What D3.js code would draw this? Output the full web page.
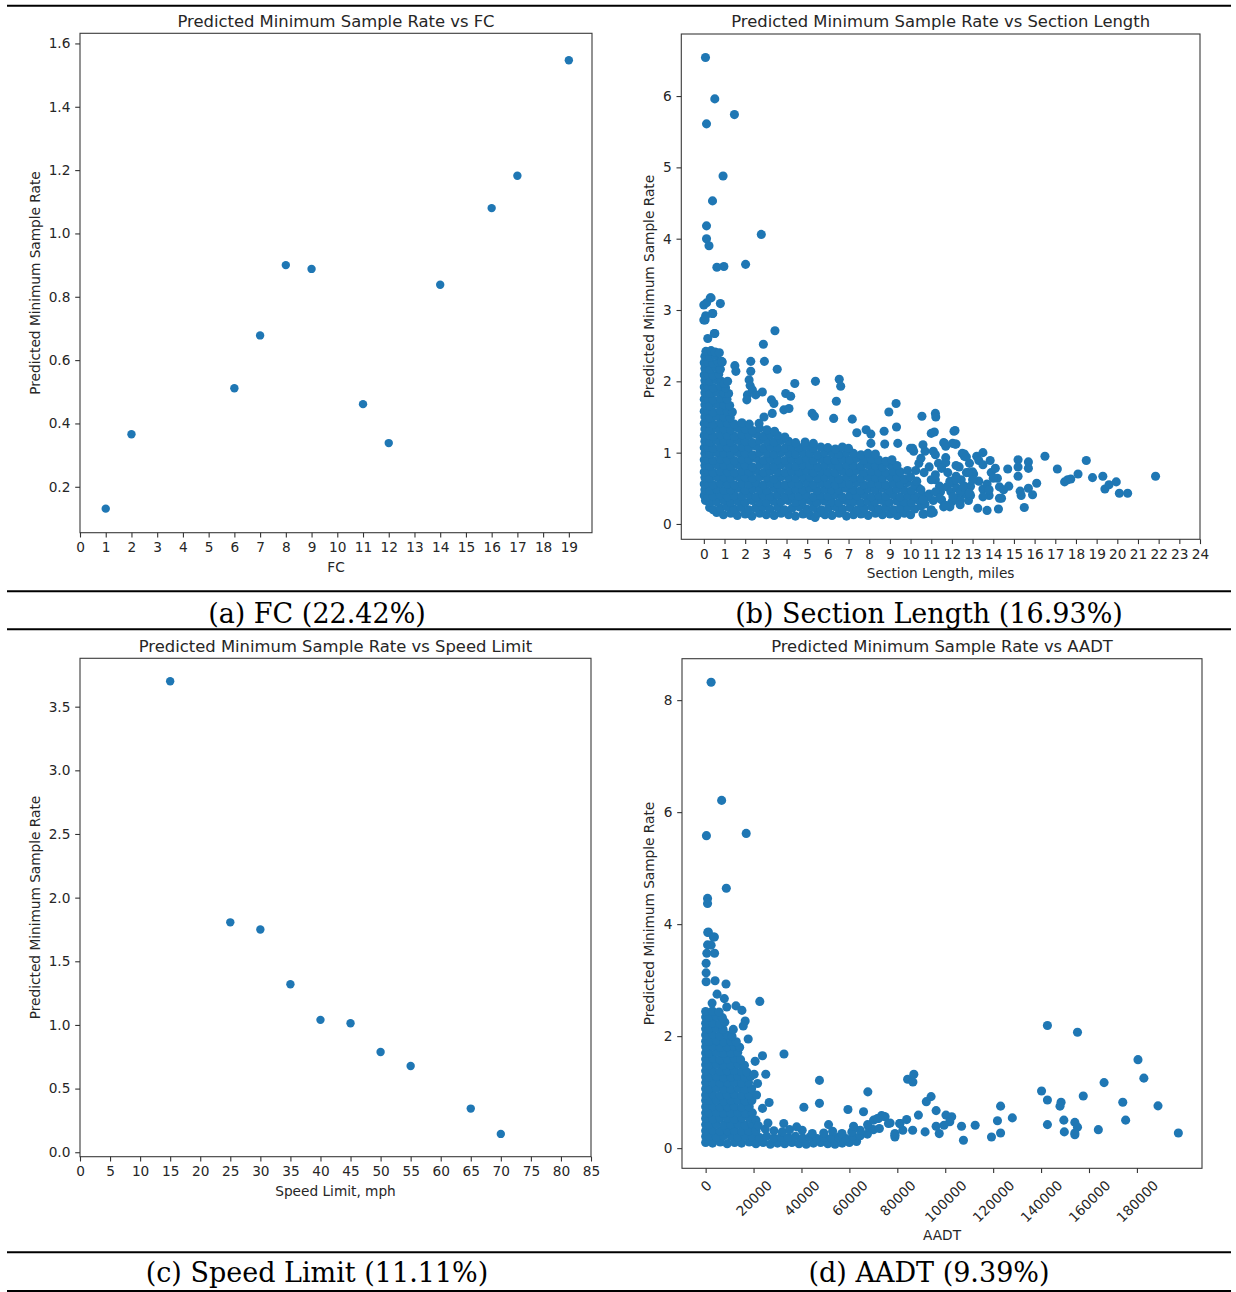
<!DOCTYPE html>
<html>
<head>
<meta charset="utf-8">
<script src="https://cdn.jsdelivr.net/npm/d3@7"></script>
<style>
  body { margin: 0; background: #fff; }
  svg { display: block; }
</style>
</head>
<body>
<svg id="fig" width="1236" height="1292"></svg>
<script>
// ---- (a) functional class ----
const fcValues = [1, 2, 6, 7, 8, 9, 11, 12, 14, 16, 17, 19];
const fcRates  = [0.131, 0.366, 0.511, 0.678, 0.900, 0.888, 0.461, 0.338, 0.838, 1.080, 1.182, 1.547];
const fcTicks  = [0,1,2,3,4,5,6,7,8,9,10,11,12,13,14,15,16,17,18,19];
const fcRateTicks = [0.2, 0.4, 0.6, 0.8, 1.0, 1.2, 1.4, 1.6];

// ---- (c) speed limit ----
const speedLimits = [15, 25, 30, 35, 40, 45, 50, 55, 65, 70];
const speedRates  = [3.70, 1.806, 1.75, 1.32, 1.04, 1.013, 0.787, 0.677, 0.343, 0.144];
const speedTicks  = [0,5,10,15,20,25,30,35,40,45,50,55,60,65,70,75,80,85];
const speedRateTicks = [0.0, 0.5, 1.0, 1.5, 2.0, 2.5, 3.0, 3.5];

// ---- (b) section length [miles, rate] ----
const sectionCore = [
  [0.62,.16],[0.95,.13],[1.3,.15],[1.62,.12],[2.0,.14],[2.33,.11],[2.7,.15],[3.02,.13],[3.4,.12],[3.74,.15],[4.1,.13],[4.43,.11],[4.8,.14],[5.15,.12],[5.38,.09],[5.52,.15],[5.86,.13],[6.2,.12],[6.55,.15],[6.9,.11],[7.24,.13],[7.6,.14],[7.95,.12],[8.3,.15],[8.64,.13],[9.0,.14],[9.35,.12],[9.7,.15],[10.0,.13],
  [0.28,.23],[0.45,.2],[0.8,.22],[1.12,.24],[1.47,.21],[1.8,.23],[2.17,.2],[2.5,.22],[2.86,.24],[3.2,.21],[3.57,.23],[3.9,.2],[4.27,.22],[4.6,.24],[4.97,.21],[5.3,.23],[5.68,.2],[6.03,.22],[6.36,.24],[6.72,.21],[7.07,.23],[7.42,.2],[7.76,.22],[8.12,.24],[8.47,.21],[8.8,.23],[9.17,.2],[9.5,.22],[9.86,.24],[10.2,.21],[10.5,.25],
  [0.08,.33],[0.3,.3],[0.62,.31],[0.97,.33],[1.3,.3],[1.64,.32],[2.0,.3],[2.34,.33],[2.68,.31],[3.03,.3],[3.38,.32],[3.74,.31],[4.08,.33],[4.44,.3],[4.78,.31],[5.13,.33],[5.48,.3],[5.83,.32],[6.18,.31],[6.53,.3],[6.88,.33],[7.24,.31],[7.58,.3],[7.94,.32],[8.28,.31],[8.63,.33],[8.98,.3],[9.34,.32],[9.68,.31],[10.04,.3],[10.4,.33],
  [0.02,.4],[0.2,.38],[0.45,.39],[0.8,.41],[1.14,.38],[1.48,.4],[1.83,.39],[2.18,.41],[2.52,.38],[2.87,.4],[3.22,.39],[3.56,.41],[3.92,.38],[4.26,.4],[4.6,.39],[4.96,.41],[5.3,.38],[5.66,.4],[6.0,.39],[6.36,.41],[6.7,.38],[7.06,.4],[7.4,.39],[7.76,.41],[8.1,.38],[8.46,.4],[8.8,.39],[9.16,.41],[9.5,.38],[9.86,.4],[10.2,.39],[10.55,.41],
  [0.05,.48],[0.3,.47],[0.62,.49],[0.97,.47],[1.3,.48],[1.66,.5],[2.0,.47],[2.36,.49],[2.7,.48],[3.04,.47],[3.4,.5],[3.74,.48],[4.1,.47],[4.44,.49],[4.78,.48],[5.14,.5],[5.48,.47],[5.84,.49],[6.18,.48],[6.54,.47],[6.88,.5],[7.24,.48],[7.58,.47],[7.94,.49],[8.28,.48],[8.64,.5],[8.98,.47],[9.34,.49],[9.68,.48],[10.04,.47],[10.4,.5],
  [0.02,.56],[0.2,.57],[0.45,.55],[0.8,.57],[1.14,.56],[1.48,.55],[1.84,.57],[2.18,.56],[2.53,.58],[2.88,.55],[3.22,.57],[3.57,.56],[3.92,.55],[4.26,.57],[4.61,.56],[4.96,.58],[5.3,.55],[5.66,.57],[6.0,.56],[6.36,.55],[6.7,.57],[7.05,.56],[7.4,.58],[7.75,.55],[8.1,.57],[8.45,.56],[8.8,.55],[9.15,.57],[9.5,.56],[9.85,.58],[10.2,.55],
  [0.05,.65],[0.3,.64],[0.62,.66],[0.97,.65],[1.3,.64],[1.66,.66],[2.0,.65],[2.35,.64],[2.7,.66],[3.05,.65],[3.4,.63],[3.75,.66],[4.1,.65],[4.44,.64],[4.8,.66],[5.14,.65],[5.5,.64],[5.84,.66],[6.2,.65],[6.54,.63],[6.9,.66],[7.24,.65],[7.6,.64],[7.94,.66],[8.3,.65],[8.64,.64],[9.0,.66],[9.34,.65],[9.7,.63],[10.0,.66],
  [0.02,.73],[0.2,.74],[0.45,.72],[0.8,.74],[1.14,.73],[1.48,.72],[1.84,.74],[2.18,.73],[2.53,.75],[2.88,.72],[3.22,.74],[3.57,.73],[3.92,.72],[4.26,.74],[4.61,.73],[4.96,.75],[5.3,.72],[5.66,.74],[6.0,.73],[6.36,.72],[6.7,.74],[7.05,.73],[7.4,.75],[7.75,.72],[8.1,.74],[8.45,.73],[8.8,.72],[9.15,.74],[9.5,.73],[9.85,.75],
  [0.05,.82],[0.3,.81],[0.62,.83],[0.97,.82],[1.3,.81],[1.66,.83],[2.0,.82],[2.35,.8],[2.7,.83],[3.05,.82],[3.4,.81],[3.75,.83],[4.1,.82],[4.44,.81],[4.8,.83],[5.14,.82],[5.5,.8],[5.84,.83],[6.2,.82],[6.54,.81],[6.9,.83],[7.24,.82],[7.6,.81],[7.94,.83],[8.3,.82],[8.64,.8],[9.0,.83],[9.34,.82],
  [0.02,.9],[0.2,.91],[0.45,.89],[0.8,.91],[1.14,.9],[1.48,.89],[1.84,.91],[2.18,.9],[2.53,.92],[2.88,.89],[3.22,.91],[3.57,.9],[3.92,.89],[4.26,.91],[4.61,.9],[4.96,.92],[5.3,.89],[5.66,.91],[6.0,.9],[6.36,.89],[6.7,.91],[7.05,.9],[7.4,.92],[7.75,.89],[8.1,.91],[8.45,.9],[8.8,.88],[9.1,.9],
  [0.05,.99],[0.3,.98],[0.62,1.0],[0.97,.99],[1.3,.98],[1.66,1.0],[2.0,.99],[2.35,.97],[2.7,1.0],[3.05,.99],[3.4,.98],[3.75,1.0],[4.1,.99],[4.44,.98],[4.8,1.0],[5.14,.99],[5.5,.97],[5.84,1.0],[6.2,.99],[6.54,.98],[6.9,1.0],[7.24,.99],[7.6,.97],[7.94,.99],[8.3,.98],
  [0.02,1.07],[0.2,1.08],[0.45,1.06],[0.8,1.08],[1.14,1.07],[1.48,1.06],[1.84,1.08],[2.18,1.07],[2.53,1.09],[2.88,1.06],[3.22,1.08],[3.57,1.07],[3.92,1.06],[4.26,1.08],[4.61,1.07],[4.96,1.09],[5.3,1.06],[5.66,1.08],[6.0,1.07],[6.36,1.05],[6.7,1.08],[7.0,1.06],
  [0.05,1.16],[0.3,1.15],[0.62,1.17],[0.97,1.16],[1.3,1.15],[1.66,1.17],[2.0,1.16],[2.35,1.14],[2.7,1.17],[3.05,1.16],[3.4,1.15],[3.75,1.17],[4.1,1.16],[4.44,1.14],[4.9,1.15],[5.3,1.13],
  [0.02,1.24],[0.2,1.25],[0.45,1.23],[0.8,1.25],[1.14,1.24],[1.48,1.23],[1.84,1.25],[2.18,1.24],[2.53,1.26],[2.88,1.23],[3.22,1.25],[3.57,1.24],[3.92,1.22],
  [0.05,1.33],[0.3,1.32],[0.62,1.34],[0.97,1.33],[1.3,1.32],[1.66,1.34],[2.0,1.33],[2.35,1.31],[2.7,1.34],[3.05,1.32],[3.42,1.3],
  [0.02,1.41],[0.2,1.42],[0.45,1.4],[0.8,1.42],[1.14,1.41],[1.48,1.4],[1.84,1.42],[2.2,1.4],
  [0.05,1.5],[0.3,1.49],[0.62,1.51],[0.97,1.5],[1.28,1.49],
  [0.02,1.58],[0.2,1.59],[0.45,1.57],[0.8,1.59],[1.14,1.58],[1.38,1.57],
  [0.05,1.67],[0.3,1.66],[0.62,1.68],[0.97,1.67],[1.25,1.66],
  [0.02,1.75],[0.2,1.76],[0.45,1.74],[0.8,1.76],[1.12,1.75],
  [0.05,1.84],[0.3,1.83],[0.62,1.85],[0.95,1.84],[1.2,1.83],
  [0.02,1.92],[0.2,1.93],[0.45,1.91],[0.8,1.93],[1.05,1.91],
  [0.05,2.01],[0.3,2.0],[0.6,2.02],[0.85,2.0],
  [0.02,2.09],[0.2,2.1],[0.45,2.08],[0.72,2.1],
  [0.05,2.18],[0.3,2.17],[0.6,2.19],[0.8,2.17],
  [0.02,2.26],[0.2,2.27],[0.45,2.25],[0.7,2.27],
  [0.05,2.35],[0.3,2.34],[0.58,2.36],
  [0.1,2.42],[0.35,2.43],[0.55,2.41],[0.75,2.4]
];
const sectionTail = [
  [10.3,.6],[10.4,.85],[10.5,.48],[10.7,.28],[10.9,.8],[11.0,.2],[11.2,.62],[11.35,.85],[11.45,.45],[11.5,.34],[11.75,.52],[11.95,.45],[12.05,.57],[12.25,.5],[12.45,.62],[12.6,.42],[12.35,.8],[12.85,.85],[13.05,.7],[10.5,.92],[10.25,.75],[10.9,.42],[11.1,.16],[10.65,.14],[10.6,.14],[11.0,.15],
  [10.1,1.06],[10.15,1.02],[10.6,1.11],[10.7,1.02],[10.65,.72],[11.1,1.02],[11.2,.97],[11.6,1.14],[11.7,1.09],[11.7,.93],[11.7,.86],[12.2,.82],[12.5,.99],[12.6,.95],[13.0,.73],[12.7,.72],[12.6,.53],[12.4,.45],[12.2,.36],[12.0,.31],[11.9,.24],[12.4,.33],[12.9,.53],[12.8,.33],[13.3,.6],[13.5,.49],[12.9,.4],[11.4,.53],[11.2,.45],[11.1,.33],[11.4,.36],[11.6,.24],[11.7,.26],[10.8,.38],[10.6,.34],[11.0,.62],[11.2,.69],[11.5,.78],[11.8,.72],[11.9,.6],[12.2,.67],[13.9,.72],[13.7,.56],[13.8,.4],[14.2,.64],[14.3,.52],[14.4,.36],
  [12.15,1.31],[12.2,1.12],[12.6,.98],[12.7,.94],[13.2,.95],[13.5,1.0],[13.3,.89],[13.85,.89],[13.5,.83],[14.1,.78],[14.7,.77],[15.2,.9],[15.2,.8],[15.2,.67],[15.7,.87],[15.7,.78],[16.5,.95],[17.1,.77],[18.5,.89],[17.45,.59],[17.6,.62],[17.75,.63],[18.1,.7],[18.8,.65],[19.3,.67],[19.4,.49],[19.6,.55],[19.95,.59],[20.1,.43],[20.5,.43],[21.85,.67],[16.1,.57],[15.9,.41],[15.5,.23],[15.35,.4],[15.3,.46],[15.7,.5],[14.75,.53],[14.5,.48],[14.3,.36],[14.25,.21],[13.7,.19],[13.25,.22],[12.85,.43],[12.4,.27],[12.05,.38],[13.8,.48],[13.5,.38],[12.55,.52],[13.0,.62],[12.8,.72],[12.2,.62],[14.0,.64]
];
const sectionHigh = [
  [0.08,6.54],[0.53,5.96],[0.13,5.61],[1.48,5.74],[0.93,4.88],[0.42,4.53],[0.13,4.18],[0.13,4.0],[0.25,3.9],[2.78,4.06],[0.63,3.6],[0.97,3.61],[2.02,3.64],[0.31,3.17],[0.8,3.09],[0.0,3.07],[0.13,3.1],[0.42,2.95],[0.09,2.92],[0.0,2.86],[0.53,2.67],[0.19,2.6],[3.44,2.71],[2.88,2.52],[2.93,2.28],[3.55,2.17],[1.5,2.22],[1.55,2.14],[0.89,2.27],[2.27,2.14],[2.19,2.02],[2.24,1.94],[2.11,1.81],[2.08,1.74],[2.35,1.88],[2.51,1.81],[2.83,1.85],[3.27,1.74],[3.39,1.69],[3.96,1.83],[4.2,1.79],[4.4,1.97],[3.87,1.6],[4.12,1.62],[5.4,2.0],[6.55,2.03],[6.62,1.93],[6.41,1.72],[5.24,1.55],[5.35,1.51],[6.28,1.48],[7.18,1.47],[8.95,1.57],[9.3,1.69],[9.32,1.36],[10.55,1.51],[11.2,1.55],[11.22,1.5],[12.1,1.3],[12.15,1.12],[7.4,1.28],[7.85,1.32],[8.08,1.26],[8.72,1.3],[8.75,1.12],[8.08,1.13],[9.38,1.13],[10.0,1.06],[11.0,1.27],[11.15,1.29],[11.65,1.13],[12.03,1.13],[2.27,2.28],[2.91,1.5],[2.67,1.41],[3.31,1.55],[0.99,1.97],[0.86,2.28],[0.51,2.67],[0.06,2.86],[0.35,3.17],[0.43,2.95],[1.15,2.0]
];
const sectionTicks = [0,1,2,3,4,5,6,7,8,9,10,11,12,13,14,15,16,17,18,19,20,21,22,23,24];
const sectionRateTicks = [0, 1, 2, 3, 4, 5, 6];

// ---- (d) AADT [vehicles/day, rate] ----
const aadtCore = [
  [0,.1],[2900,.09],[6100,.11],[9000,.08],[12100,.1],[15000,.09],[18200,.11],
  [0,.21],[1500,.21],[4500,.2],[7500,.22],[10600,.21],[13500,.2],[16500,.22],[19500,.2],
  [0,.31],[3000,.32],[6000,.3],[9100,.31],[12000,.32],[15000,.3],[18000,.31],
  [0,.42],[1500,.42],[4500,.43],[7600,.41],[10500,.42],[13600,.43],[16500,.41],[19500,.42],
  [0,.53],[3000,.52],[6100,.54],[9000,.53],[12000,.52],[15100,.54],[18300,.53],[21000,.5],
  [0,.63],[1500,.63],[4500,.64],[7500,.62],[10500,.63],[13500,.64],[16600,.62],[19500,.63],
  [0,.74],[3000,.75],[6000,.73],[9100,.74],[12000,.75],[15000,.73],[18200,.74],
  [0,.85],[1500,.85],[4500,.86],[7500,.84],[10600,.85],[13500,.86],[16500,.84],[19300,.85],
  [0,.95],[3000,.96],[6100,.94],[9000,.95],[12000,.96],[15100,.94],[18000,.95],
  [0,1.06],[1500,1.06],[4500,1.07],[7500,1.05],[10500,1.06],[13600,1.07],[16500,1.05],[19200,1.06],
  [0,1.17],[3000,1.18],[6000,1.16],[9100,1.17],[12000,1.18],[15000,1.16],[17900,1.17],
  [0,1.27],[1500,1.27],[4500,1.28],[7500,1.26],[10600,1.27],[13500,1.28],[16400,1.26],[18800,1.28],
  [0,1.38],[3000,1.39],[6100,1.37],[9000,1.38],[12000,1.39],[15000,1.37],[17200,1.36],
  [0,1.49],[1500,1.49],[4500,1.5],[7500,1.48],[10500,1.49],[13500,1.5],[16200,1.48],
  [0,1.59],[3000,1.6],[6000,1.58],[9100,1.59],[12000,1.6],[14600,1.58],
  [0,1.7],[1500,1.7],[4500,1.71],[7500,1.69],[10600,1.7],[13400,1.71],
  [0,1.81],[3000,1.82],[6100,1.8],[9000,1.81],[12000,1.82],[14200,1.8],
  [0,1.91],[1500,1.91],[4500,1.92],[7500,1.9],[10500,1.91],[12800,1.9],
  [0,2.02],[3000,2.03],[6000,2.01],[9100,2.02],[11000,2.0],
  [0,2.13],[1500,2.13],[4500,2.14],[7300,2.12],
  [0,2.23],[3000,2.24],[6000,2.22],[8000,2.25],
  [0,2.34],[1500,2.34],[4500,2.35],[7000,2.33],
  [0,2.44],[2800,2.45],[5600,2.43]
];
const aadtBand = [
  [21000,.08],[24000,.1],[27000,.07],[30000,.09],[33000,.08],[36000,.1],[39000,.08],[42000,.07],[45000,.09],[48000,.1],[51000,.08],[54000,.07],[57000,.09],[60000,.1],[63000,.12],
  [22500,.19],[25500,.21],[28500,.18],[31500,.2],[34500,.19],[37500,.21],[40500,.18],[43500,.2],[46500,.17],[49500,.2],[52500,.18],[55500,.2],[58500,.17],[61500,.21],[64500,.22],[67500,.25],
  [21000,.3],[24900,.34],[28500,.31],[32000,.29],[35000,.33],[40300,.32],[44500,.26],[49300,.27],[53000,.3],[56900,.26],[61000,.29],[64500,.32],[68000,.38],[70000,.33],
  [22000,.4],[26000,.45],[32600,.44],[38000,.38],[51300,.42],[61750,.39],[67600,.42],[70100,.5],[73400,.58],[72100,.53],[74900,.56],[77000,.45],[79000,.23],[81100,.44]
];
const aadtSpread = [
  [2280,8.32],[6680,6.21],[330,5.58],[16930,5.62],[8630,4.64],[800,4.46],[800,4.37],[1120,3.86],[3240,3.77],[800,3.63],[3730,3.48],[900,3.85],[3650,3.77],[2280,3.625],[500,3.48],[200,3.3],[200,3.13],[200,2.97],[3940,2.99],[8500,2.93],[4770,2.75],[2700,2.59],[7800,2.67],[8800,2.52],[12650,2.54],[15150,2.46],[22600,2.62],[16500,2.27],[15700,2.18],[11540,2.12],[17760,1.95],[23730,1.65],[32700,1.68],[20660,1.55],[20250,1.32],[25100,1.32],[21660,1.155],[21240,.95],[26500,.815],[23730,.71],[41000,.73],[47500,1.21],[47500,.8],[59400,.69],[65900,.65],[67700,1.005],[84300,1.23],[86500,1.18],[86900,1.32],
  [142650,2.19],[155200,2.07],[180450,1.58],[182900,1.25],[166300,1.17],[157600,.93],[140200,1.02],[142650,.86],[148350,.82],[147900,.75],[174100,.82],[188800,.755],[175300,.5],[142650,.42],[149500,.5],[154100,.46],[155200,.375],[149700,.29],[154100,.27],[154100,.24],[163900,.33],[197300,.27],[128000,.54],[123100,.75],[121800,.49],[123100,.27],[119300,.2],[112500,.41],[107600,.14],[106800,.39],[102700,.56],[100300,.59],[101900,.47],[99500,.41],[96200,.39],[97500,.26],[96200,.67],[94100,.92],[92100,.83],[91600,.29],[88800,.59],[83900,.51],[86400,.32],[82300,.32],[81000,.44],[79000,.2],[79000,.26],[71700,.53],[74200,.57],[76300,.44],[72500,.35]
];
const aadtTicks = [0, 20000, 40000, 60000, 80000, 100000, 120000, 140000, 160000, 180000];
const aadtRateTicks = [0, 2, 4, 6, 8];

// ---- drawing ----
const BLUE = "#1f77b4";
const SANS = "DejaVu Sans";
const INK = "#262626";
const svg = d3.select("#fig");

function drawPanel(p) {
  const g = svg.append("g");
  const x = d3.scaleLinear().domain(p.xDomain).range([p.left, p.right]);
  const y = d3.scaleLinear().domain(p.yDomain).range([p.bottom, p.top]);

  g.append("g").selectAll("circle").data(p.points).join("circle")
    .attr("cx", d => x(d[0])).attr("cy", d => y(d[1]))
    .attr("r", p.r).attr("fill", BLUE);

  g.append("rect")
    .attr("x", p.left).attr("y", p.top)
    .attr("width", p.right - p.left).attr("height", p.bottom - p.top)
    .attr("fill", "none").attr("stroke", "#3a3a3a").attr("stroke-width", 1.1);

  const xAxis = g.append("g").attr("transform", `translate(0,${p.bottom})`)
    .call(d3.axisBottom(x).tickValues(p.xTicks).tickFormat(p.xFormat)
      .tickSize(4.8).tickPadding(4.8).tickSizeOuter(0));
  const yAxis = g.append("g").attr("transform", `translate(${p.left},0)`)
    .call(d3.axisLeft(y).tickValues(p.yTicks).tickFormat(p.yFormat)
      .tickSize(4.8).tickPadding(4.8).tickSizeOuter(0));

  [xAxis, yAxis].forEach(a => {
    a.select(".domain").remove();
    a.attr("font-family", SANS).attr("font-size", 13.7).attr("color", INK);
    a.selectAll(".tick line").attr("stroke", "#333").attr("stroke-width", 1.1);
  });

  if (p.rotateX) {
    xAxis.selectAll(".tick text").each(function () {
      const t = d3.select(this);
      const w = this.getComputedTextLength();
      const side = (w + 14) * Math.SQRT1_2;
      t.attr("y", null).attr("dy", "0.35em").attr("text-anchor", "middle")
        .attr("transform", `translate(0,${9.6 + side / 2}) rotate(-45)`);
    });
  }

  const cx = (p.left + p.right) / 2;
  g.append("text").attr("x", cx).attr("y", p.top - 6.8)
    .attr("text-anchor", "middle").attr("font-family", SANS).attr("font-size", 16.4)
    .attr("fill", INK).text(p.title);
  g.append("text").attr("x", cx).attr("y", p.xLabelY)
    .attr("text-anchor", "middle").attr("font-family", SANS).attr("font-size", 13.7)
    .attr("fill", INK).text(p.xLabel);
  g.append("text")
    .attr("transform", `translate(${p.yLabelX},${(p.top + p.bottom) / 2}) rotate(-90)`)
    .attr("text-anchor", "middle").attr("font-family", SANS).attr("font-size", 13.7)
    .attr("fill", INK).text("Predicted Minimum Sample Rate");
}

const f1 = d3.format(".1f"), fd = d3.format("d");

drawPanel({
  title: "Predicted Minimum Sample Rate vs FC", xLabel: "FC",
  left: 80, right: 592, top: 33.3, bottom: 532.7,
  xDomain: [0, 19.9], yDomain: [0.055, 1.632],
  xTicks: fcTicks, yTicks: fcRateTicks, xFormat: fd, yFormat: f1,
  points: fcValues.map((v, i) => [v, fcRates[i]]), r: 4.2,
  xLabelY: 571.5, yLabelX: 39.7
});

drawPanel({
  title: "Predicted Minimum Sample Rate vs Section Length", xLabel: "Section Length, miles",
  left: 681.3, right: 1200, top: 34, bottom: 539.3,
  xDomain: [-1.09, 24], yDomain: [-0.215, 6.87],
  xTicks: sectionTicks, yTicks: sectionRateTicks, xFormat: fd, yFormat: fd,
  points: sectionCore.concat(sectionTail, sectionHigh), r: 4.55,
  xLabelY: 578.2, yLabelX: 653.8
});

drawPanel({
  title: "Predicted Minimum Sample Rate vs Speed Limit", xLabel: "Speed Limit, mph",
  left: 80, right: 591, top: 658.3, bottom: 1156.7,
  xDomain: [0, 85], yDomain: [-0.035, 3.88],
  xTicks: speedTicks, yTicks: speedRateTicks, xFormat: fd, yFormat: f1,
  points: speedLimits.map((v, i) => [v, speedRates[i]]), r: 4.2,
  xLabelY: 1195.5, yLabelX: 39.7
});

drawPanel({
  title: "Predicted Minimum Sample Rate vs AADT", xLabel: "AADT",
  left: 682, right: 1202, top: 658.7, bottom: 1168.3,
  xDomain: [-9865, 207165], yDomain: [-0.36, 8.74],
  xTicks: aadtTicks, yTicks: aadtRateTicks, xFormat: fd, yFormat: fd,
  points: aadtCore.concat(aadtBand, aadtSpread), r: 4.55, rotateX: true,
  xLabelY: 1240, yLabelX: 654.4
});

// caption rules and sub-figure captions
[5.7, 591.2, 629.3, 1252.2, 1291].forEach(yy => {
  svg.append("line").attr("x1", 7).attr("x2", 1231).attr("y1", yy).attr("y2", yy)
    .attr("stroke", "#000").attr("stroke-width", 2);
});
const captions = [
  { text: "(a) FC (22.42%)", x: 317, y: 622.6 },
  { text: "(b) Section Length (16.93%)", x: 929, y: 622.6 },
  { text: "(c) Speed Limit (11.11%)", x: 317, y: 1282.3 },
  { text: "(d) AADT (9.39%)", x: 929, y: 1282.3 }
];
svg.selectAll("text.caption").data(captions).join("text").attr("class", "caption")
  .attr("x", d => d.x).attr("y", d => d.y).attr("text-anchor", "middle")
  .attr("font-family", "DejaVu Serif").attr("font-size", 27).attr("fill", "#000")
  .text(d => d.text);
</script>
</body>
</html>
